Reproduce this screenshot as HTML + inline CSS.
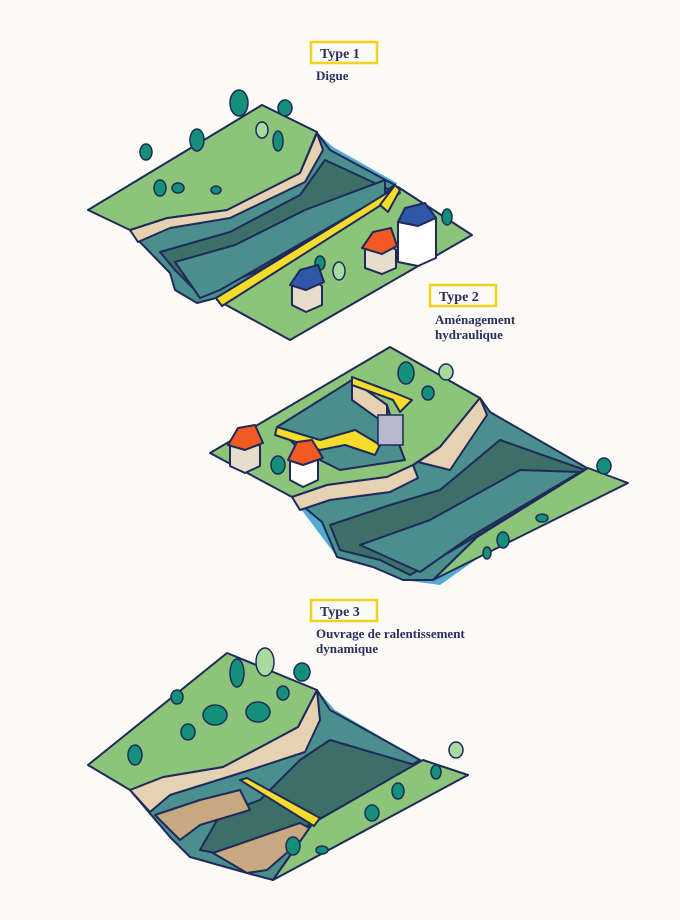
<!DOCTYPE html>
<html><head><meta charset="utf-8"><style>
body{margin:0;background:#fbfaf6;}
svg{display:block}
text{font-family:"Liberation Serif",serif;font-weight:bold;fill:#2a2f5e}
.o{stroke:#1f2a5a;stroke-width:2;stroke-linejoin:round}
.g{fill:#8cc47a}.b{fill:#e6d2b3}.t{fill:#4a8e8e}.d{fill:#3c6f68}.w{fill:#55aad2}.y{fill:#f5dc2a}.br{fill:#c8a880}
.tr{fill:#14907a;stroke:#1f2a5a;stroke-width:1.5}
.lt{fill:#a8dba0;stroke:#1f2a5a;stroke-width:1.5}
</style></head><body>
<svg width="680" height="920" viewBox="0 0 680 920">
<!-- labels -->
<rect x="311" y="42" width="66" height="21" fill="none" stroke="#f2d21c" stroke-width="2.5"/>
<text x="320" y="58" font-size="14">Type 1</text>
<text x="316" y="80" font-size="13">Digue</text>
<rect x="430" y="285" width="66" height="21" fill="none" stroke="#f2d21c" stroke-width="2.5"/>
<text x="439" y="301" font-size="14">Type 2</text>
<text x="435" y="324" font-size="13">Aménagement</text>
<text x="435" y="339" font-size="13">hydraulique</text>
<rect x="311" y="600" width="66" height="21" fill="none" stroke="#f2d21c" stroke-width="2.5"/>
<text x="320" y="616" font-size="14">Type 3</text>
<text x="316" y="638" font-size="13">Ouvrage de ralentissement</text>
<text x="316" y="653" font-size="13">dynamique</text>

<!-- TYPE 1 -->
<polygon class="w" points="317,133 333,147 397,183 390,200 220,297 197,303 175,290 170,273"/>
<polygon class="o t" points="130,230 167,218 227,210 300,173 317,133 330,150 395,185 220,297 197,303 175,290 170,273 138,240"/>
<polygon class="o d" points="160,252 230,232 300,195 325,160 390,190 260,270 200,295 175,270"/>
<polygon class="o t" points="175,262 235,245 305,210 385,180 385,195 220,290 200,298"/>
<polygon class="o b" points="130,230 167,218 227,210 300,173 317,133 323,150 305,182 230,218 170,228 138,242"/>
<polygon class="o g" points="88,210 262,105 317,132 300,173 227,210 167,218 130,230"/>
<polygon class="o g" points="217,300 398,187 472,235 290,340"/>
<polygon class="o y" points="216,298 395,188 400,193 222,306"/>
<polygon class="o y" points="380,205 395,185 400,190 388,212"/>
<g>
<ellipse class="tr" cx="239" cy="103" rx="9" ry="13"/><ellipse class="tr" cx="285" cy="108" rx="7" ry="8"/>
<ellipse class="tr" cx="197" cy="140" rx="7" ry="11"/><ellipse class="lt" cx="262" cy="130" rx="6" ry="8"/>
<ellipse class="tr" cx="146" cy="152" rx="6" ry="8"/><ellipse class="tr" cx="160" cy="188" rx="6" ry="8"/>
<ellipse class="tr" cx="178" cy="188" rx="6" ry="5"/><ellipse class="tr" cx="216" cy="190" rx="5" ry="4"/>
<ellipse class="tr" cx="278" cy="141" rx="5" ry="10"/><ellipse class="tr" cx="447" cy="217" rx="5" ry="8"/>
<ellipse class="lt" cx="339" cy="271" rx="6" ry="9"/><ellipse class="tr" cx="320" cy="263" rx="5" ry="7"/>
</g>
<!-- houses -->
<polygon class="o" fill="#e8dccb" points="292,285 310,278 322,286 322,305 306,312 292,305"/>
<polygon class="o" fill="#2f58a8" points="290,285 300,270 318,265 324,282 306,290"/>
<polygon class="o" fill="#e8dccb" points="365,248 385,242 396,250 396,268 382,274 365,268"/>
<polygon class="o" fill="#f25a24" points="362,248 373,232 391,228 397,246 382,254"/>
<polygon class="o" fill="#fff" points="398,222 418,212 436,218 436,258 418,266 398,262"/>
<polygon class="o" fill="#2f58a8" points="398,222 405,208 425,203 436,218 418,226"/>

<!-- TYPE 2 -->
<polygon class="w" points="480,398 490,412 587,468 560,500 440,585 403,580 373,567 337,557 292,497"/>
<polygon class="o t" points="292,497 327,485 387,477 413,465 440,447 480,398 490,412 587,468 477,537 433,580 403,580 373,567 337,557 322,522"/>
<polygon class="o d" points="330,525 390,505 440,490 500,440 585,470 470,540 410,575 380,560 340,550"/>
<polygon class="o t" points="360,545 430,520 520,470 580,472 470,537 420,572"/>
<polygon class="o g" points="210,453 390,347 480,398 440,447 413,465 387,477 327,485 292,497"/>
<polygon class="o t" points="277,427 352,380 387,405 400,447 405,460 340,470 300,450"/>
<polygon class="o b" points="292,497 327,485 387,477 413,465 418,478 390,492 330,500 300,510"/>
<polygon class="o b" points="440,447 480,398 487,415 450,470 418,462"/>
<polygon class="o b" points="352,380 387,405 387,425 352,400"/>
<polygon class="o g" points="433,580 628,483 588,468 477,537"/>
<polygon class="o y" points="277,427 320,440 355,430 372,440 380,445 375,455 345,445 320,450 275,435"/>
<polygon class="o y" points="352,377 400,395 412,400 400,412 393,400 352,385"/>
<rect x="378" y="415" width="25" height="30" fill="#b8b8cc" stroke="#1f2a5a" stroke-width="1.5"/>
<polygon class="o" fill="#e8dccb" points="230,445 248,438 260,446 260,466 245,473 230,466"/>
<polygon class="o" fill="#f25a24" points="228,445 238,428 255,425 263,443 245,450"/>
<polygon class="o" fill="#fff" points="290,460 305,453 318,460 318,480 303,487 290,480"/>
<polygon class="o" fill="#f25a24" points="288,460 297,442 312,440 323,458 303,465"/>
<ellipse class="tr" cx="406" cy="373" rx="8" ry="11"/><ellipse class="lt" cx="446" cy="372" rx="7" ry="8"/>
<ellipse class="tr" cx="428" cy="393" rx="6" ry="7"/><ellipse class="tr" cx="278" cy="465" rx="7" ry="9"/>
<ellipse class="tr" cx="604" cy="466" rx="7" ry="8"/><ellipse class="tr" cx="503" cy="540" rx="6" ry="8"/>
<ellipse class="tr" cx="487" cy="553" rx="4" ry="6"/><ellipse class="tr" cx="542" cy="518" rx="6" ry="4"/>

<!-- TYPE 3 -->
<polygon class="w" points="317,690 335,710 420,760 400,790 273,880 247,873 190,857 170,837"/>
<polygon class="o t" points="130,790 163,777 223,767 298,727 317,690 330,710 420,760 313,823 273,880 247,873 190,857 170,837"/>
<polygon class="o d" points="220,815 260,800 300,760 330,740 415,765 300,830 250,860 200,850"/>
<polygon class="o b" points="130,790 163,777 223,767 298,727 317,690 320,720 305,752 250,770 170,795 150,812"/>
<polygon class="o br" points="155,815 200,800 240,790 250,810 200,825 180,840"/>
<polygon class="o br" points="213,853 300,823 313,830 267,870 247,873"/>
<polygon class="o g" points="88,765 227,653 317,690 298,727 223,767 163,777 130,790"/>
<polygon class="o g" points="273,880 313,823 423,760 468,775"/>
<polygon class="o y" points="240,780 247,778 320,818 314,826"/>
<ellipse class="tr" cx="237" cy="673" rx="7" ry="14"/><ellipse class="lt" cx="265" cy="662" rx="9" ry="14"/>
<ellipse class="tr" cx="302" cy="672" rx="8" ry="9"/><ellipse class="tr" cx="177" cy="697" rx="6" ry="7"/>
<ellipse class="tr" cx="215" cy="715" rx="12" ry="10"/><ellipse class="tr" cx="258" cy="712" rx="12" ry="10"/>
<ellipse class="tr" cx="188" cy="732" rx="7" ry="8"/><ellipse class="tr" cx="135" cy="755" rx="7" ry="10"/>
<ellipse class="tr" cx="283" cy="693" rx="6" ry="7"/><ellipse class="lt" cx="456" cy="750" rx="7" ry="8"/>
<ellipse class="tr" cx="436" cy="772" rx="5" ry="7"/><ellipse class="tr" cx="398" cy="791" rx="6" ry="8"/>
<ellipse class="tr" cx="372" cy="813" rx="7" ry="8"/><ellipse class="tr" cx="293" cy="846" rx="7" ry="9"/>
<ellipse class="tr" cx="322" cy="850" rx="6" ry="4"/>
</svg>
</body></html>
